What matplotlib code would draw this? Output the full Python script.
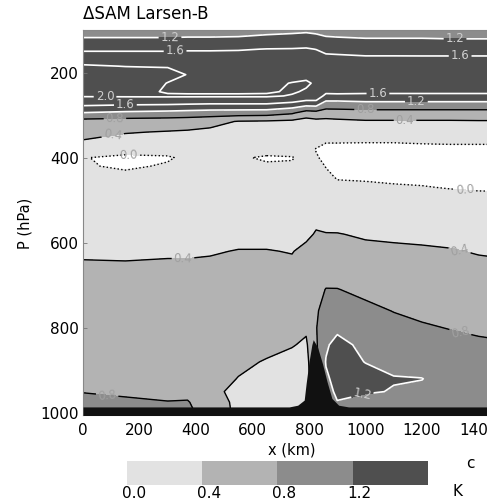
import numpy as np
import matplotlib
matplotlib.use("Agg")
import matplotlib.pyplot as plt
import matplotlib.cm as cm
import matplotlib.transforms as mtransforms
from matplotlib.colors import ListedColormap, BoundaryNorm

# ---------------- data ----------------
x_km = [0, 150, 300, 370, 450, 550, 650, 740, 790, 825, 860, 900,
        1000, 1100, 1200, 1300, 1400, 1500]
p_hpa = [100, 125, 145, 165, 185, 205, 225, 245, 255, 265, 280, 295, 315,
         340, 360, 380, 400, 420, 445, 470, 520, 580, 620, 660, 710, 760,
         800, 840, 880, 920, 950, 975, 1005]

# temperature difference (K), one vertical profile per x column
dT_x0 = [1.10, 1.24, 1.55, 1.75, 2.05, 2.20, 2.25, 2.15, 2.02, 1.90, 1.55, 1.18, 0.65,
         0.50, 0.39, 0.20, 0.01, 0.02, 0.10, 0.15, 0.22, 0.30, 0.36, 0.44, 0.52, 0.55,
         0.57, 0.60, 0.65, 0.72, 0.79, 0.88, 0.90]
dT_x150 = [1.10, 1.24, 1.55, 1.75, 1.99, 2.20, 2.25, 2.12, 2.03, 1.88, 1.50, 1.12, 0.62,
           0.42, 0.30, 0.10, -0.05, -0.03, 0.05, 0.12, 0.20, 0.30, 0.36, 0.43, 0.50, 0.55,
           0.57, 0.60, 0.64, 0.70, 0.76, 0.84, 0.88]
dT_x300 = [1.10, 1.24, 1.55, 1.75, 1.98, 2.10, 1.99, 1.97, 2.04, 1.86, 1.48, 1.08, 0.60,
           0.38, 0.28, 0.08, -0.02, 0.02, 0.07, 0.12, 0.20, 0.29, 0.37, 0.44, 0.50, 0.54,
           0.56, 0.58, 0.62, 0.67, 0.72, 0.81, 0.85]
dT_x370 = [1.10, 1.25, 1.56, 1.76, 1.95, 1.99, 1.93, 1.96, 2.04, 1.85, 1.45, 1.05, 0.58,
           0.36, 0.26, 0.10, 0.04, 0.05, 0.08, 0.12, 0.20, 0.29, 0.37, 0.44, 0.50, 0.53,
           0.55, 0.57, 0.60, 0.65, 0.72, 0.82, 0.86]
dT_x450 = [1.10, 1.25, 1.56, 1.76, 1.90, 1.93, 1.92, 1.96, 2.04, 1.84, 1.42, 1.02, 0.52,
           0.32, 0.24, 0.12, 0.05, 0.06, 0.09, 0.13, 0.20, 0.30, 0.38, 0.45, 0.50, 0.53,
           0.54, 0.55, 0.55, 0.52, 0.48, 0.62, 0.70]
dT_x550 = [1.10, 1.26, 1.57, 1.77, 1.90, 1.93, 1.92, 1.96, 2.04, 1.84, 1.42, 1.00, 0.38,
           0.30, 0.22, 0.12, 0.03, 0.05, 0.09, 0.13, 0.20, 0.32, 0.41, 0.46, 0.52, 0.54,
           0.53, 0.50, 0.46, 0.39, 0.32, 0.30, 0.30]
dT_x650 = [1.12, 1.30, 1.61, 1.80, 1.90, 1.93, 1.94, 1.97, 2.04, 1.84, 1.42, 0.98, 0.36,
           0.28, 0.20, 0.10, -0.03, 0.03, 0.09, 0.13, 0.20, 0.32, 0.41, 0.46, 0.52, 0.54,
           0.52, 0.48, 0.38, 0.30, 0.25, 0.20, 0.20]
dT_x740 = [1.14, 1.32, 1.62, 1.80, 1.88, 1.90, 2.01, 2.03, 1.98, 1.75, 1.30, 0.85, 0.32,
           0.28, 0.20, 0.08, -0.01, 0.02, 0.09, 0.13, 0.20, 0.32, 0.39, 0.45, 0.50, 0.53,
           0.50, 0.42, 0.30, 0.22, 0.15, 0.05, -0.05]
dT_x790 = [1.15, 1.35, 1.64, 1.82, 1.88, 1.92, 2.04, 1.97, 1.85, 1.62, 1.15, 0.62, 0.25,
           0.26, 0.18, 0.08, 0.05, 0.07, 0.10, 0.14, 0.22, 0.35, 0.46, 0.50, 0.55, 0.55,
           0.45, 0.35, 0.30, 0.25, 0.20, 0.15, 0.10]
dT_x825 = [1.13, 1.32, 1.59, 1.80, 1.86, 1.90, 1.96, 1.93, 1.83, 1.62, 1.17, 0.66, 0.30,
           0.20, 0.10, -0.01, 0.02, 0.08, 0.12, 0.18, 0.30, 0.42, 0.50, 0.60, 0.70, 0.76,
           0.78, 0.75, 0.70, 0.70, 0.70, 0.70, 0.70]
dT_x860 = [1.08, 1.28, 1.50, 1.68, 1.80, 1.85, 1.85, 1.68, 1.50, 1.24, 0.92, 0.60, 0.30,
           0.15, 0.02, -0.05, -0.05, -0.01, 0.05, 0.12, 0.25, 0.41, 0.52, 0.65, 0.81, 0.92,
           1.05, 1.15, 1.22, 1.15, 1.10, 1.00, 1.00]
dT_x900 = [1.08, 1.26, 1.50, 1.66, 1.78, 1.82, 1.82, 1.68, 1.52, 1.24, 0.92, 0.62, 0.32,
           0.15, 0.02, -0.05, -0.07, -0.06, -0.02, 0.05, 0.22, 0.41, 0.50, 0.62, 0.81, 0.95,
           1.12, 1.32, 1.35, 1.30, 1.25, 1.19, 1.15]
dT_x1000 = [1.06, 1.24, 1.45, 1.64, 1.76, 1.80, 1.80, 1.66, 1.52, 1.28, 0.94, 0.66, 0.36,
            0.16, 0.02, -0.06, -0.08, -0.07, -0.03, 0.04, 0.18, 0.37, 0.46, 0.58, 0.72, 0.88,
            1.00, 1.10, 1.19, 1.32, 1.24, 1.05, 1.00]
dT_x1100 = [1.06, 1.24, 1.45, 1.64, 1.75, 1.78, 1.78, 1.66, 1.52, 1.28, 0.94, 0.66, 0.36,
            0.16, 0.02, -0.06, -0.08, -0.07, -0.04, 0.02, 0.17, 0.35, 0.45, 0.55, 0.67, 0.79,
            0.90, 1.00, 1.10, 1.22, 1.18, 1.05, 1.00]
dT_x1200 = [1.06, 1.24, 1.44, 1.64, 1.74, 1.78, 1.78, 1.66, 1.52, 1.28, 0.94, 0.66, 0.36,
            0.16, 0.03, -0.05, -0.08, -0.07, -0.05, 0.01, 0.15, 0.33, 0.44, 0.53, 0.64, 0.74,
            0.83, 0.92, 1.02, 1.21, 1.10, 1.00, 0.95]
dT_x1300 = [1.05, 1.23, 1.44, 1.64, 1.73, 1.77, 1.77, 1.66, 1.52, 1.28, 0.94, 0.66, 0.36,
            0.17, 0.04, -0.05, -0.08, -0.07, -0.05, -0.01, 0.13, 0.31, 0.42, 0.51, 0.62, 0.71,
            0.79, 0.88, 0.95, 1.00, 1.00, 0.95, 0.90]
dT_x1400 = [1.05, 1.23, 1.44, 1.64, 1.73, 1.77, 1.77, 1.66, 1.52, 1.28, 0.94, 0.66, 0.37,
            0.17, 0.04, -0.05, -0.08, -0.07, -0.05, -0.02, 0.10, 0.28, 0.38, 0.47, 0.58, 0.68,
            0.76, 0.84, 0.90, 0.95, 0.95, 0.92, 0.90]
dT_x1500 = [1.05, 1.23, 1.44, 1.64, 1.73, 1.77, 1.77, 1.66, 1.52, 1.28, 0.94, 0.66, 0.37,
            0.17, 0.04, -0.05, -0.08, -0.07, -0.05, -0.02, 0.09, 0.27, 0.36, 0.45, 0.56, 0.66,
            0.74, 0.82, 0.88, 0.93, 0.93, 0.90, 0.88]

dT_columns = [dT_x0, dT_x150, dT_x300, dT_x370, dT_x450, dT_x550, dT_x650, dT_x740,
              dT_x790, dT_x825, dT_x860, dT_x900, dT_x1000, dT_x1100, dT_x1200,
              dT_x1300, dT_x1400, dT_x1500]

# surface / mountain (surface pressure, hPa)
terrain_x = [0, 600, 730, 760, 783, 790, 800, 810, 815, 830, 848, 864, 881, 905, 940, 1500]
terrain_p = [986, 986, 986, 982, 970, 930, 880, 840, 828, 845, 885, 927, 966, 982, 986, 986]

fill_levels = [-1.0, 0.0, 0.4, 0.8, 1.2, 3.0]
fill_colors = ["#ffffff", "#e2e2e2", "#b3b3b3", "#8c8c8c", "#4f4f4f"]
dark_levels = [0.0, 0.4, 0.8]
light_levels = [1.2, 1.6, 2.0]
cbar_bounds = [0.0, 0.4, 0.8, 1.2, 1.6]
cbar_ticks = [0.0, 0.4, 0.8, 1.2]
cbar_labels = ["0.0", "0.4", "0.8", "1.2"]
x_ticks = [0, 200, 400, 600, 800, 1000, 1200, 1400]
y_ticks = [200, 400, 600, 800, 1000]

# ---------------- figure ----------------
plt.rcParams["font.family"] = ["DejaVu Sans"]
fig = plt.figure(figsize=(4.87, 5.03), dpi=100)
ax = fig.add_axes([83 / 487, 88 / 503, 423.75 / 487, 385 / 503])

X, P = np.meshgrid(x_km, p_hpa)
Z = np.array(dT_columns).T

ax.contourf(X, P, Z, levels=fill_levels, colors=fill_colors, zorder=1)
cs_dark = ax.contour(X, P, Z, levels=dark_levels, colors="black",
                     linewidths=1.0, linestyles=["dotted", "solid", "solid"], zorder=2)
cs_light = ax.contour(X, P, Z, levels=light_levels, colors="white",
                      linewidths=1.2, linestyles="solid", zorder=2)

dark_label_pos = [(160, 400), (1352, 476), (106, 352), (1140, 313), (113, 308),
                  (1000, 289), (354, 630), (1335, 612), (1335, 812), (85, 962)]
light_label_pos = [(308, 118), (326, 150), (1317, 121), (1335, 160), (78, 256),
                   (150, 276), (1044, 249), (1180, 268), (990, 960)]
ax.clabel(cs_dark, fmt="%.1f", fontsize=8.5, colors="#a0a0a0", inline=True,
          inline_spacing=2, manual=dark_label_pos)
ax.clabel(cs_light, fmt="%.1f", fontsize=8.5, colors="#cfcfcf", inline=True,
          inline_spacing=2, manual=light_label_pos)

ax.fill_between(terrain_x, terrain_p, 1010, color="#111111", lw=0, zorder=5)

ax.set_xlim(0, 1500)
ax.set_ylim(1005, 100)
ax.set_xticks(x_ticks)
ax.set_yticks(y_ticks)
ax.tick_params(axis="both", direction="in", length=3, width=0.6, color="#777777",
               labelsize=11)
ax.tick_params(axis="x", pad=6)
ax.tick_params(axis="y", pad=3)
for s in ax.spines.values():
    s.set_color("#888888")
    s.set_linewidth(0.8)

fig.text(83 / 487, 1 - 14 / 503, "\u0394SAM Larsen-B", fontsize=12,
         ha="left", va="center")
fig.text(25 / 487, 1 - 223 / 503, "P (hPa)", fontsize=10.5, rotation=90,
         ha="center", va="center")
fig.text(292 / 487, 1 - 450 / 503, "x (km)", fontsize=10.5, ha="center", va="center")

# ---------------- colour bar ----------------
cax = fig.add_axes([127 / 487, 18 / 503, 301 / 487, 24 / 503])
cmap = ListedColormap(fill_colors[1:])
norm = BoundaryNorm(cbar_bounds, cmap.N)
cb = fig.colorbar(cm.ScalarMappable(norm=norm, cmap=cmap), cax=cax,
                  orientation="horizontal")
cb.outline.set_visible(False)
cax.xaxis.set_ticks([])
cax.xaxis.set_ticks([], minor=True)
cax.tick_params(which="both", length=0, labelbottom=False)
offset = mtransforms.ScaledTranslation(7 / 100, 0, fig.dpi_scale_trans)
for v, lab in zip(cbar_ticks, cbar_labels):
    cax.text(v, -0.05, lab, transform=cax.get_xaxis_transform() + offset,
             ha="center", va="top", fontsize=11)
fig.text(458 / 487, 1 - 491 / 503, "K", fontsize=11, ha="center", va="center")
fig.text(470 / 487, 1 - 463 / 503, "c", fontsize=11, ha="center", va="center")

fig.savefig("out.png", dpi=100)
